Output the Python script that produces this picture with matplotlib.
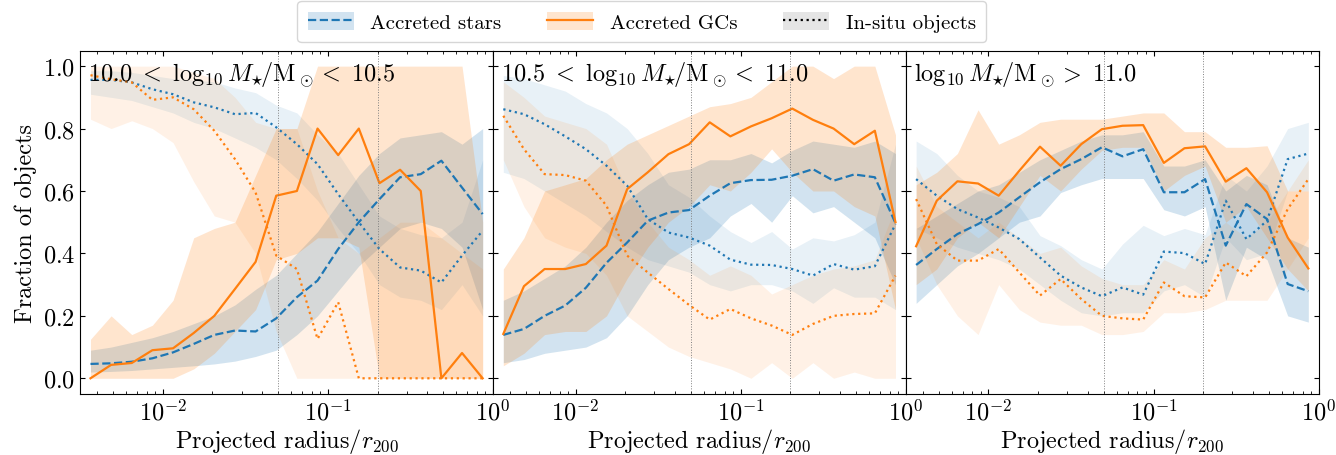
import numpy as np
import matplotlib
matplotlib.use("Agg")
import matplotlib.pyplot as plt
from matplotlib.patches import Patch
from matplotlib.lines import Line2D

plt.rcParams['font.family'] = 'serif'
plt.rcParams['font.serif'] = ['cmr10']
plt.rcParams['mathtext.fontset'] = 'cm'
plt.rcParams['axes.formatter.use_mathtext'] = True
plt.rcParams['axes.unicode_minus'] = False

# radial bins (projected radius / r200), 20 log bins from 10^-2.5 to 1
r_edges = np.logspace(-2.5, 0, 21)
r_mid = np.sqrt(r_edges[:-1] * r_edges[1:])

titles = [r'$10.0\ <\ \log_{10} M_{\star}\!/{\rm M}_\odot <\ 10.5$',
          r'$10.5\ <\ \log_{10} M_{\star}\!/{\rm M}_\odot <\ 11.0$',
          r'$\log_{10} M_{\star}\!/{\rm M}_\odot >\ 11.0$']

# ---- 10.0 - 10.5
p1_star_acc = [0.046, 0.048, 0.053, 0.064, 0.083, 0.11, 0.139, 0.153, 0.15, 0.192,
               0.26, 0.313, 0.414, 0.50, 0.574, 0.644, 0.654, 0.697, 0.611, 0.526]
p1_star_acc_lo = [0.02, 0.022, 0.025, 0.03, 0.035, 0.04, 0.046, 0.055, 0.07, 0.09,
                  0.14, 0.2, 0.28, 0.36, 0.42, 0.48, 0.5, 0.48, 0.42, 0.22]
p1_star_acc_hi = [0.09, 0.1, 0.115, 0.13, 0.15, 0.175, 0.2, 0.235, 0.285, 0.33,
                  0.4, 0.47, 0.56, 0.65, 0.72, 0.77, 0.78, 0.79, 0.75, 0.8]
p1_star_ins = [0.956, 0.956, 0.948, 0.926, 0.91, 0.884, 0.868, 0.846, 0.85, 0.804,
               0.75, 0.686, 0.59, 0.50, 0.414, 0.355, 0.345, 0.307, 0.393, 0.473]
p1_star_ins_lo = [0.91, 0.9, 0.89, 0.87, 0.85, 0.82, 0.8, 0.77, 0.74, 0.7,
                  0.64, 0.57, 0.48, 0.4, 0.3, 0.26, 0.25, 0.22, 0.3, 0.2]
p1_star_ins_hi = [0.985, 0.985, 0.98, 0.97, 0.96, 0.955, 0.95, 0.93, 0.915, 0.875,
                  0.85, 0.78, 0.72, 0.62, 0.52, 0.48, 0.46, 0.45, 0.5, 0.7]
p1_gc_acc = [0.0, 0.043, 0.049, 0.09, 0.096, 0.145, 0.2, 0.286, 0.373, 0.585,
             0.60, 0.80, 0.715, 0.80, 0.625, 0.668, 0.60, 0.0, 0.081, 0.0]
p1_gc_acc_lo = [0.0, 0.0, 0.0, 0.0, 0.0, 0.03, 0.08, 0.15, 0.22, 0.38,
                0.4, 0.45, 0.45, 0.42, 0.0, 0.0, 0.0, 0.0, 0.0, 0.0]
p1_gc_acc_hi = [0.125, 0.2, 0.14, 0.17, 0.25, 0.45, 0.48, 0.5, 0.65, 0.8,
                0.8, 1.0, 1.0, 1.0, 1.0, 1.0, 1.0, 1.0, 1.0, 0.5]
p1_gc_ins = [0.971, 0.958, 0.948, 0.892, 0.90, 0.862, 0.793, 0.702, 0.595, 0.393,
             0.35, 0.126, 0.244, 0.0, 0.0, 0.0, 0.0, 0.0, 0.0, 0.0]
p1_gc_ins_lo = [0.83, 0.8, 0.825, 0.8, 0.755, 0.63, 0.52, 0.5, 0.4, 0.15,
                0.0, 0.0, 0.0, 0.0, 0.0, 0.0, 0.0, 0.0, 0.0, 0.0]
p1_gc_ins_hi = [1.0, 1.0, 1.0, 1.0, 1.0, 0.98, 0.96, 0.9, 0.82, 0.8,
                0.8, 0.6, 0.45, 0.4, 0.45, 0.5, 0.5, 0.45, 0.4, 0.35]

# ---- 10.5 - 11.0
p2_star_acc = [0.139, 0.158, 0.20, 0.233, 0.29, 0.37, 0.435, 0.505, 0.531, 0.539,
               0.585, 0.625, 0.635, 0.636, 0.649, 0.67, 0.633, 0.653, 0.644, 0.497]
p2_star_acc_lo = [0.05, 0.06, 0.08, 0.09, 0.1, 0.13, 0.2, 0.3, 0.38, 0.42,
                  0.45, 0.52, 0.56, 0.5, 0.585, 0.53, 0.55, 0.5, 0.45, 0.3]
p2_star_acc_hi = [0.25, 0.28, 0.32, 0.36, 0.42, 0.5, 0.57, 0.62, 0.66, 0.67,
                  0.7, 0.7, 0.72, 0.69, 0.73, 0.76, 0.75, 0.74, 0.76, 0.72]
p2_star_ins = [0.862, 0.846, 0.814, 0.775, 0.734, 0.681, 0.617, 0.51, 0.467, 0.451,
               0.425, 0.38, 0.364, 0.363, 0.35, 0.329, 0.366, 0.348, 0.359, 0.494]
p2_star_ins_lo = [0.66, 0.64, 0.6, 0.56, 0.52, 0.47, 0.42, 0.38, 0.36, 0.34,
                  0.3, 0.28, 0.3, 0.3, 0.28, 0.24, 0.29, 0.26, 0.26, 0.22]
p2_star_ins_hi = [0.97, 0.96, 0.94, 0.92, 0.88, 0.85, 0.8, 0.72, 0.62, 0.58,
                  0.52, 0.47, 0.435, 0.47, 0.414, 0.45, 0.44, 0.46, 0.5, 0.75]
p2_gc_acc = [0.142, 0.295, 0.35, 0.35, 0.366, 0.425, 0.606, 0.66, 0.718, 0.75,
             0.82, 0.775, 0.807, 0.833, 0.864, 0.828, 0.80, 0.75, 0.793, 0.50]
p2_gc_acc_lo = [0.04, 0.08, 0.14, 0.15, 0.15, 0.2, 0.32, 0.42, 0.5, 0.55,
                0.62, 0.6, 0.66, 0.735, 0.66, 0.6, 0.6, 0.55, 0.52, 0.22]
p2_gc_acc_hi = [0.35, 0.45, 0.6, 0.62, 0.64, 0.7, 0.75, 0.78, 0.81, 0.84,
                0.87, 0.88, 0.9, 0.95, 1.0, 1.0, 0.96, 1.0, 1.0, 0.78]
p2_gc_ins = [0.841, 0.734, 0.654, 0.651, 0.633, 0.553, 0.393, 0.339, 0.286, 0.235,
             0.188, 0.222, 0.192, 0.169, 0.139, 0.174, 0.20, 0.206, 0.208, 0.329]
p2_gc_ins_lo = [0.7, 0.55, 0.45, 0.42, 0.4, 0.33, 0.2, 0.15, 0.1, 0.07,
                0.05, 0.03, 0.0, 0.05, 0.0, 0.05, 0.0, 0.02, 0.0, 0.0]
p2_gc_ins_hi = [0.95, 0.9, 0.84, 0.82, 0.8, 0.75, 0.6, 0.5, 0.42, 0.38,
                0.33, 0.36, 0.33, 0.27, 0.3, 0.33, 0.35, 0.36, 0.38, 0.55]

# ---- > 11.0
p3_star_acc = [0.363, 0.414, 0.462, 0.494, 0.531, 0.58, 0.628, 0.67, 0.702, 0.74,
               0.711, 0.734, 0.596, 0.596, 0.638, 0.425, 0.558, 0.51, 0.302, 0.279]
p3_star_acc_lo = [0.24, 0.3, 0.36, 0.4, 0.45, 0.5, 0.52, 0.595, 0.62, 0.64,
                  0.64, 0.64, 0.54, 0.52, 0.55, 0.25, 0.42, 0.38, 0.2, 0.18]
p3_star_acc_hi = [0.48, 0.52, 0.56, 0.6, 0.62, 0.66, 0.7, 0.73, 0.76, 0.78,
                  0.78, 0.79, 0.68, 0.68, 0.7, 0.6, 0.65, 0.62, 0.45, 0.42]
p3_star_ins = [0.638, 0.585, 0.542, 0.515, 0.483, 0.446, 0.387, 0.329, 0.291, 0.263,
               0.291, 0.268, 0.406, 0.401, 0.366, 0.569, 0.446, 0.505, 0.702, 0.72]
p3_star_ins_lo = [0.48, 0.45, 0.42, 0.4, 0.38, 0.35, 0.3, 0.25, 0.21, 0.2,
                  0.21, 0.21, 0.28, 0.3, 0.26, 0.45, 0.38, 0.4, 0.6, 0.6]
p3_star_ins_hi = [0.76, 0.72, 0.65, 0.6, 0.58, 0.55, 0.457, 0.425, 0.38, 0.35,
                  0.43, 0.49, 0.457, 0.48, 0.46, 0.65, 0.6, 0.68, 0.8, 0.82]
p3_gc_acc = [0.423, 0.569, 0.631, 0.624, 0.585, 0.665, 0.742, 0.681, 0.75, 0.798,
             0.809, 0.811, 0.69, 0.737, 0.743, 0.63, 0.673, 0.596, 0.451, 0.352]
p3_gc_acc_lo = [0.3, 0.35, 0.45, 0.5, 0.45, 0.55, 0.65, 0.6, 0.67, 0.73,
                0.74, 0.74, 0.6, 0.65, 0.68, 0.5, 0.55, 0.45, 0.35, 0.28]
p3_gc_acc_hi = [0.62, 0.66, 0.72, 0.86, 0.75, 0.78, 0.82, 0.83, 0.83, 0.83,
                0.84, 0.85, 0.85, 0.79, 0.79, 0.74, 0.74, 0.745, 0.6, 0.6]
p3_gc_ins = [0.574, 0.43, 0.377, 0.377, 0.414, 0.339, 0.265, 0.318, 0.254, 0.20,
             0.192, 0.188, 0.307, 0.263, 0.259, 0.371, 0.327, 0.403, 0.542, 0.638]
p3_gc_ins_lo = [0.45, 0.3, 0.2, 0.14, 0.3, 0.22, 0.18, 0.17, 0.17, 0.14,
                0.14, 0.15, 0.21, 0.21, 0.22, 0.25, 0.25, 0.25, 0.35, 0.45]
p3_gc_ins_hi = [0.68, 0.55, 0.5, 0.45, 0.5, 0.45, 0.4, 0.42, 0.36, 0.32,
                0.3, 0.3, 0.38, 0.35, 0.45, 0.5, 0.45, 0.5, 0.6, 0.7]

panels = [
    (p1_star_acc, p1_star_acc_lo, p1_star_acc_hi, p1_star_ins, p1_star_ins_lo, p1_star_ins_hi,
     p1_gc_acc, p1_gc_acc_lo, p1_gc_acc_hi, p1_gc_ins, p1_gc_ins_lo, p1_gc_ins_hi),
    (p2_star_acc, p2_star_acc_lo, p2_star_acc_hi, p2_star_ins, p2_star_ins_lo, p2_star_ins_hi,
     p2_gc_acc, p2_gc_acc_lo, p2_gc_acc_hi, p2_gc_ins, p2_gc_ins_lo, p2_gc_ins_hi),
    (p3_star_acc, p3_star_acc_lo, p3_star_acc_hi, p3_star_ins, p3_star_ins_lo, p3_star_ins_hi,
     p3_gc_acc, p3_gc_acc_lo, p3_gc_acc_hi, p3_gc_ins, p3_gc_ins_lo, p3_gc_ins_hi),
]

c_star = 'tab:blue'
c_gc = 'tab:orange'
fs = 17.5

fig, axes = plt.subplots(1, 3, figsize=(13.36, 4.56), dpi=100, sharey=True)
fig.subplots_adjust(left=0.06, right=0.987, bottom=0.134, top=0.887, wspace=0)

for ax, title, p in zip(axes, titles, panels):
    (sa, sa_lo, sa_hi, si, si_lo, si_hi, ga, ga_lo, ga_hi, gi, gi_lo, gi_hi) = p
    ax.fill_between(r_mid, sa_lo, sa_hi, color=c_star, alpha=0.2, lw=0)
    ax.fill_between(r_mid, si_lo, si_hi, color=c_star, alpha=0.1, lw=0)
    ax.fill_between(r_mid, ga_lo, ga_hi, color=c_gc, alpha=0.2, lw=0)
    ax.fill_between(r_mid, gi_lo, gi_hi, color=c_gc, alpha=0.1, lw=0)
    ax.plot(r_mid, sa, color=c_star, ls='--', lw=1.6)
    ax.plot(r_mid, si, color=c_star, ls=':', lw=1.6)
    ax.plot(r_mid, ga, color=c_gc, ls='-', lw=1.6)
    ax.plot(r_mid, gi, color=c_gc, ls=':', lw=1.6)
    ax.axvline(0.05, color='grey', ls=':', lw=0.7)
    ax.axvline(0.2, color='grey', ls=':', lw=0.7)
    ax.set_xscale('log')
    ax.set_xlim(10**-2.5, 1)
    ax.set_ylim(-0.05, 1.05)
    ax.set_xticks([1e-2, 1e-1, 1])
    ax.tick_params(which='both', direction='in', top=True, right=True, labelsize=fs)
    ax.set_xlabel(r'Projected radius/$r_{200}$', fontsize=fs, labelpad=1)
    ax.text(0.02, 0.975, title, transform=ax.transAxes, fontsize=fs, va='top', ha='left')

axes[0].set_yticks([0, 0.2, 0.4, 0.6, 0.8, 1.0])
axes[0].set_ylabel('Fraction of objects', fontsize=fs)

handles = [
    (Patch(color=c_star, alpha=0.2, lw=0), Line2D([], [], color=c_star, ls='--', lw=1.6)),
    (Patch(color=c_gc, alpha=0.2, lw=0), Line2D([], [], color=c_gc, ls='-', lw=1.6)),
    (Patch(color='k', alpha=0.1, lw=0), Line2D([], [], color='k', ls=':', lw=1.6)),
]
fig.legend(handles, ['Accreted stars', 'Accreted GCs', 'In-situ objects'],
           loc='upper center', bbox_to_anchor=(0.4805, 1.0), ncol=3, fontsize=15,
           handlelength=2.2, handleheight=1.0, columnspacing=2.2, borderaxespad=0.1,
           borderpad=0.5)

fig.savefig('out.png', dpi=100)
